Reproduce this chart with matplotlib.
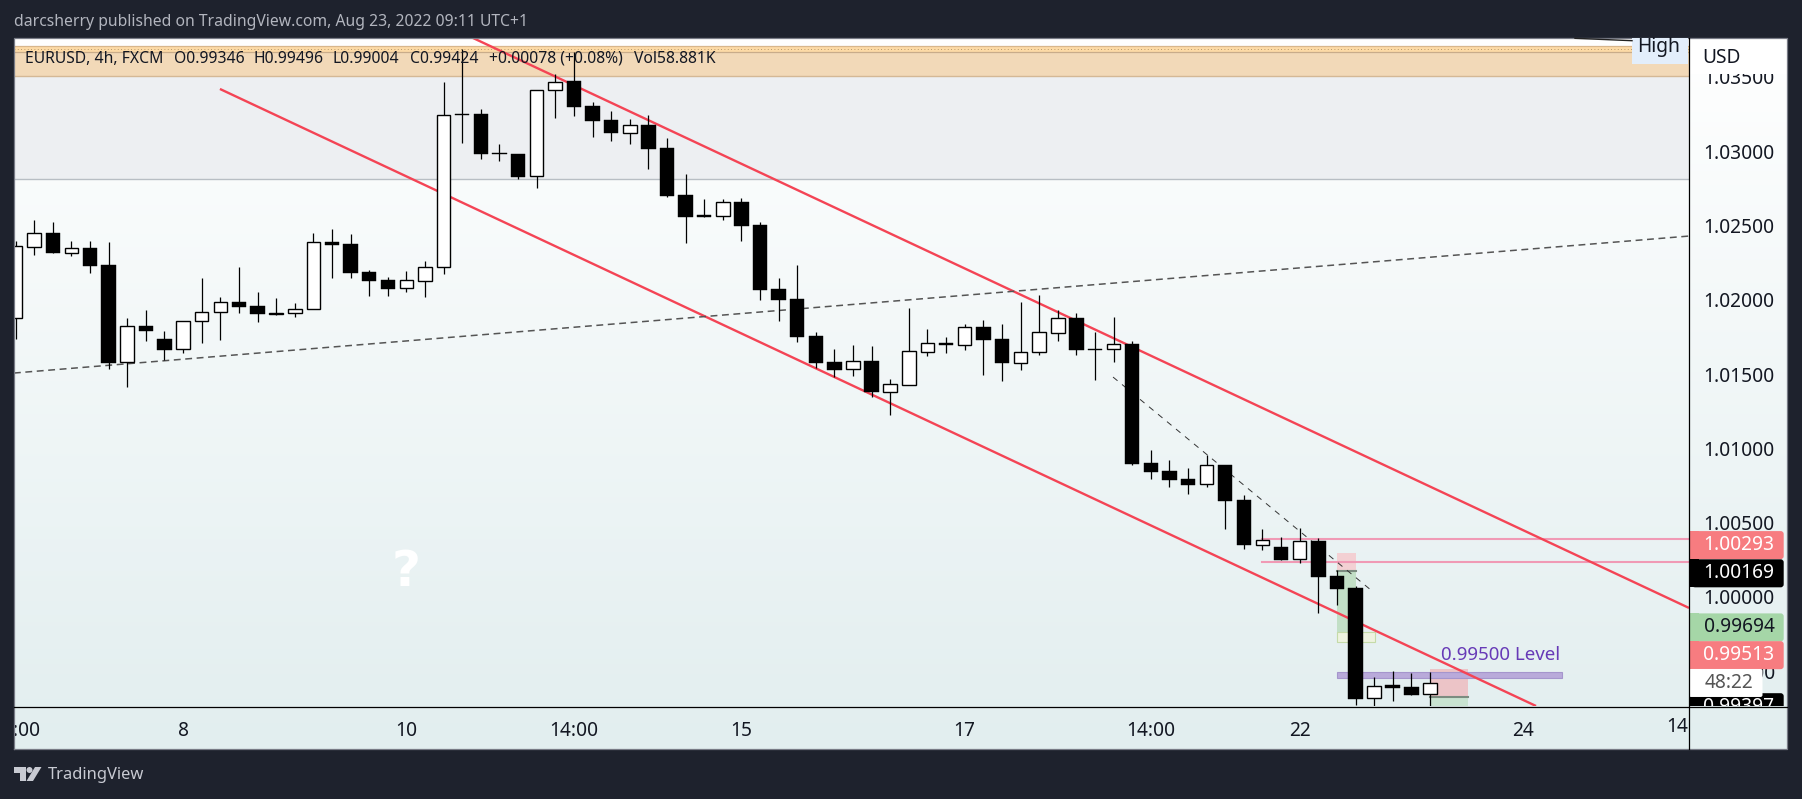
import numpy as np
import matplotlib
matplotlib.use("Agg")
import matplotlib.pyplot as plt
from matplotlib.lines import Line2D
from matplotlib.patches import Rectangle, FancyBboxPatch, Polygon, Circle
from matplotlib.transforms import IdentityTransform, Bbox

plt.rcParams['font.family'] = ['Noto Sans', 'DejaVu Sans']

W, H = 1802, 799

# ---- OHLC data (4h bars) ----
highs = [1.02398,1.02537,1.02523,1.02396,1.02396,1.02389,1.01877,1.01931,1.01790,1.01855,
         1.02147,1.02016,1.02221,1.02052,1.02012,1.01978,1.02449,1.02476,1.02443,1.02200,
         1.02153,1.02194,1.02261,1.03465,1.03685,1.03284,1.03048,1.02981,1.03409,1.03519,
         1.03669,1.03329,1.03270,1.03216,1.03243,1.03089,1.02846,1.02678,1.02678,1.02685,
         1.02523,1.02147,1.02234,1.01783,1.01669,1.01696,1.01689,1.01467,1.01945,1.01803,
         1.01750,1.01837,1.01862,1.01839,1.01983,1.02032,1.01931,1.01911,1.01783,1.01884,
         1.01723,1.00989,1.00922,1.00868,1.00956,1.00888,1.00684,1.00458,1.00401,1.00464,
         1.00395,1.00182,1.00074,0.99459,0.99500,0.99489,0.99496]
lows  = [1.01734,1.02301,1.02317,1.02295,1.02182,1.01536,1.01415,1.01725,1.01595,1.01644,
         1.01711,1.01729,1.01913,1.01853,1.01898,1.01886,1.01936,1.02149,1.02149,1.02028,
         1.02028,1.02055,1.02021,1.02173,1.03057,1.02950,1.02936,1.02813,1.02754,1.03225,
         1.03239,1.03098,1.03071,1.03050,1.02880,1.02694,1.02384,1.02559,1.02539,1.02398,
         1.02001,1.01859,1.01718,1.01539,1.01478,1.01489,1.01344,1.01225,1.01429,1.01624,
         1.01644,1.01664,1.01494,1.01456,1.01527,1.01631,1.01725,1.01631,1.01462,1.01584,
         1.00888,1.00794,1.00742,1.00695,1.00742,1.00455,1.00325,1.00319,1.00249,1.00231,
         0.99895,0.99946,0.99273,0.99267,0.99302,0.99341,0.99004]
opens = [1.01875,1.02357,1.02447,1.02317,1.02346,1.02232,1.01579,1.01821,1.01734,1.01667,
         1.01855,1.01916,1.01983,1.01958,1.01907,1.01909,1.01936,1.02387,1.02373,1.02185,
         1.02133,1.02077,1.02129,1.02218,1.03248,1.03250,1.02985,1.02981,1.02831,1.03409,
         1.03472,1.03304,1.03210,1.03125,1.03174,1.03021,1.02705,1.02570,1.02566,1.02658,
         1.02503,1.02073,1.02005,1.01756,1.01581,1.01532,1.01588,1.01382,1.01429,1.01651,
         1.01709,1.01698,1.01817,1.01736,1.01577,1.01646,1.01779,1.01877,1.01669,1.01667,
         1.01702,1.00902,1.00848,1.00794,1.00758,1.00888,1.00653,1.00352,1.00336,1.00253,
         1.00377,1.00141,1.00058,0.99318,0.99406,0.99394,0.99346]
closes = [1.02360,1.02447,1.02317,1.02346,1.02230,1.01577,1.01821,1.01792,1.01664,1.01855,
          1.01916,1.01983,1.01954,1.01907,1.01909,1.01936,1.02387,1.02371,1.02182,1.02129,
          1.02075,1.02131,1.02218,1.03241,1.03241,1.02983,1.02979,1.02828,1.03409,1.03468,
          1.03299,1.03205,1.03125,1.03174,1.03017,1.02701,1.02559,1.02559,1.02656,1.02499,
          1.02068,1.02001,1.01752,1.01577,1.01530,1.01586,1.01379,1.01431,1.01655,1.01707,
          1.01698,1.01815,1.01729,1.01577,1.01646,1.01781,1.01875,1.01664,1.01664,1.01700,
          1.00897,1.00843,1.00790,1.00756,1.00886,1.00648,1.00352,1.00381,1.00249,1.00375,
          1.00137,1.00056,0.99316,0.99403,0.99390,0.99343,0.99424]

# ---- drawings (bar index, price) ----
upper_x, upper_y = [24.58, 89.92], [1.03762, 0.99926]
lower_x, lower_y = [10.98, 81.70], [1.03419, 0.99266]
mid_x, mid_y = [-0.09, 89.92], [1.01507, 1.02429]
thin_x, thin_y = [58.97, 72.89], [1.01480, 1.00040]
pink_levels = [1.00392, 1.00238]
pink_x = [67.0, 89.92]

y_ticks = [1.035, 1.030, 1.025, 1.020, 1.015, 1.010, 1.005, 1.000, 0.995]
x_ticks = [0, 9, 21, 30, 39, 51, 61, 69, 81]
x_labels = ["14:00", "8", "10", "14:00", "15", "17", "14:00", "22", "24"]

# (price centre on the scale, text, fill, text colour)
price_tags = [(1.00349, "1.00293", "#f77c80", "#ffffff"),
              (1.00159, "1.00169", "#000000", "#ffffff"),
              (0.99795, "0.99694", "#a5d6a7", "#131722"),
              (0.99608, "0.99513", "#f77c80", "#ffffff"),
              (0.99258, "0.99397", "#000000", "#ffffff")]

YMIN, YMAX = 0.99266, 1.03762
XMIN, XMAX = -0.086, 89.92
FS = 13.8

fig = plt.figure(figsize=(W / 100, H / 100), dpi=100, facecolor="#1e222d")
idt = IdentityTransform()


def box(x0, y0, x1, y1):
    return [x0 / W, 1 - y1 / H, (x1 - x0) / W, (y1 - y0) / H]


# background gradient of the whole chart
ax_bg = fig.add_axes(box(14, 38, 1787, 749), zorder=-1)
grad = np.linspace(0, 1, 256)[:, None, None]
c0 = np.array([1.0, 1.0, 1.0])
c1 = np.array([0xe2, 0xee, 0xef]) / 255
ax_bg.imshow(c0 * (1 - grad) + c1 * grad, aspect="auto")
ax_bg.set_axis_off()

ax = fig.add_axes(box(14, 38, 1689, 706))
ax.patch.set_alpha(0)
ax.set_xlim(XMIN, XMAX)
ax.set_ylim(YMIN, YMAX)
for s in ax.spines.values():
    s.set_visible(False)

# bands
ax.axhspan(1.02813, 1.03503, color="#edeff2", lw=0, zorder=0.5)
ax.axhline(1.02813, color="#b8bec4", lw=1.0, zorder=0.6)
ax.axhspan(1.03503, 1.03668, color="#f2d9b8", lw=0, zorder=0.5)
ax.axhspan(1.03668, 1.03708, color="#fddaa6", lw=0, zorder=0.5)
ax.axhline(1.03503, color="#d4b896", lw=1.0, zorder=0.6)
ax.axhline(1.03668, color="#c9ac8a", lw=0.9, zorder=0.6)
ax.axhline(1.03708, color="#d8b68c", lw=0.9, zorder=0.6)
ax.axhline(1.03688, color="#a08658", lw=0.6, ls=(0, (1, 3)), zorder=0.7)

# position / level boxes
ax.add_patch(Rectangle((71, 1.00172), 1.03, 1.00296 - 1.00172, fc="#f3d0d3", ec="none", zorder=1))
ax.add_patch(Rectangle((71, 0.99690), 1.03, 1.00172 - 0.99690, fc="#c2dfc6", ec="none", zorder=1))
ax.plot([71, 72.03], [1.00172, 1.00172], color="#7c8c80", lw=1.5, zorder=1.1)
ax.add_patch(Rectangle((71, 0.99694), 2.03, 0.00071, fc="#eef3e0", ec="#c5dba8", lw=0.8, zorder=1.05))
ax.add_patch(Rectangle((76, 0.99329), 2.05, 0.99515 - 0.99329, fc="#ecc4c7", ec="none", zorder=1))
ax.add_patch(Rectangle((76, 0.99100), 2.05, 0.99329 - 0.99100, fc="#c9e3d1", ec="none", zorder=1))
ax.plot([76, 78.05], [0.99329, 0.99329], color="#7c8c80", lw=1.5, zorder=1.1)
ax.add_patch(Rectangle((71, 0.99455), 12.1, 0.00040, fc="#b9aada", ec="#a595cc", lw=0.8, zorder=1.2))

# trend lines
for lv in pink_levels:
    ax.plot(pink_x, [lv, lv], color="#f09ab5", lw=1.5, zorder=1.5)
ax.plot(upper_x, upper_y, color="#f44455", lw=1.7, zorder=2, solid_capstyle="butt")
ax.plot(lower_x, lower_y, color="#f44455", lw=1.7, zorder=2, solid_capstyle="butt")
ax.plot(mid_x, mid_y, color="#555555", lw=1.1, ls=(0, (4.5, 3)), zorder=2)
ax.plot(thin_x, thin_y, color="#333333", lw=0.7, ls=(0, (6, 6)), zorder=2)

# candles
n = len(closes)
xs = np.arange(n)
o, h, l, c = map(np.array, (opens, highs, lows, closes))
ax.vlines(xs, l, h, color="black", lw=0.9, zorder=3)
up = c >= o
body_w = 0.78
ax.bar(xs[up], (c - o)[up], bottom=o[up], width=body_w - 0.05, fc="white", ec="black", lw=1.0, zorder=3.2)
ax.bar(xs[~up], (o - c)[~up] + 0.00002, bottom=c[~up], width=body_w, fc="black", ec="black", lw=0.3, zorder=3.2)

# texts on the pane
ax.text(79.8, 0.99610, "0.99500 Level", color="#673ab7", fontsize=13.5, ha="center", va="center", zorder=3.5)
ax.text(20.96, 1.00168, "?", color="#ffffff", fontsize=36, family="DejaVu Sans", fontweight="bold",
        ha="center", va="center", zorder=1.5)

# axes ticks
ax.yaxis.tick_right()
ax.set_yticks(y_ticks)
ax.set_yticklabels([f"{v:.5f}" for v in y_ticks], fontsize=FS, color="#131722")
ax.tick_params(axis="y", length=0, pad=10.5)
ax.set_xticks(x_ticks)
ax.set_xticklabels(x_labels, fontsize=FS, color="#131722")
ax.tick_params(axis="x", length=0, pad=10.5)
clip_px = Bbox([[14, 0], [1689, H]])
for lab in ax.get_xticklabels():
    lab.set_clip_on(True)
    lab.set_clip_box(clip_px)
last = ax.text(90, -0.0315, "14:00", transform=ax.get_xaxis_transform(), fontsize=FS, color="#131722",
               ha="center", va="center", clip_on=True)
last.set_clip_box(clip_px)

# frame, scale lines
fig.add_artist(Line2D([14, 14, 1787, 1787, 14], [H - 749, H - 38, H - 38, H - 749, H - 749], transform=idt,
                      color="#787b86", lw=0.9))
fig.add_artist(Line2D([14, 1787], [H - 706.5, H - 706.5], transform=idt, color="black", lw=0.9, zorder=8))
fig.add_artist(Line2D([1689, 1689], [H - 38, H - 749], transform=idt, color="black", lw=0.9, zorder=4))

# scale overlay: white head hiding top of the scale
ax.add_patch(Rectangle((1690, H - 74), 97, 35, transform=idt, fc="#ffffff", ec="none", clip_on=False, zorder=6))
fig.text(1702 / W, 1 - 58 / H, "USD", fontsize=FS, color="#131722", va="center", ha="left", zorder=9)

# price tags
clip_tags = Bbox([[0, H - 706], [W, H]])
for price, txt, fc, tc in price_tags:
    cy = ax.transData.transform((0, price))[1]
    r1 = Rectangle((1689, cy - 14), 10, 28, transform=idt, fc=fc, ec="none", clip_on=True, zorder=7)
    r2 = FancyBboxPatch((1692, cy - 14), 91.7, 28, boxstyle="round,pad=0,rounding_size=3", transform=idt,
                        fc=fc, ec="none", clip_on=True, zorder=7)
    for r in (r1, r2):
        ax.add_patch(r)
        r.set_clip_box(clip_tags)
        r.set_clip_path(None)
    t = ax.text(1739, cy, txt, transform=idt, color=tc, fontsize=FS, ha="center", va="center", clip_on=True, zorder=7.5)
    t.set_clip_box(clip_tags)

# countdown
cy = ax.transData.transform((0, 0.99421))[1]
ax.add_patch(FancyBboxPatch((1689, cy - 14), 73.5, 28, boxstyle="round,pad=0,rounding_size=2", transform=idt,
                            fc="#ffffff", ec="none", clip_on=False, zorder=7.2))
ax.text(1729, cy, "48:22", transform=idt, color="#555555", fontsize=FS, ha="center", va="center", clip_on=False, zorder=7.6)

# High tag
fig.add_artist(Rectangle((1632, H - 63.5), 56, 25.5, transform=idt, fc="#e3eefb", ec="none", zorder=5))
fig.text(1659 / W, 1 - 47 / H, "High", fontsize=FS, color="#131722", ha="center", va="center", zorder=9)
fig.add_artist(Line2D([1575, 1632], [H - 38.3, H - 40.7], transform=idt, color="#222222", lw=1.0, zorder=5))

# legend line
legend_parts = [(25, "EURUSD, 4h, FXCM"), (174, "O0.99346"), (254, "H0.99496"), (333, "L0.99004"),
                (410, "C0.99424"), (489, "+0.00078 (+0.08%)"), (634, "Vol58.881K")]
for px, s in legend_parts:
    fig.text(px / W, 1 - 58.7 / H, s, fontsize=11.3, color="#131722", ha="left", va="center", zorder=9)

# header and footer
fig.text(14 / W, 1 - 21.5 / H, "darcsherry published on TradingView.com, Aug 23, 2022 09:11 UTC+1",
         fontsize=11.3, color="#b2b5be", ha="left", va="center")
fig.text(47.5 / W, 1 - 775 / H, "TradingView", fontsize=11.9, color="#c8cad2", ha="left", va="center", fontweight="medium")
logo = "#c8cad2"
fig.add_artist(Polygon([(14, H - 767), (26, H - 767), (26, H - 781), (20, H - 781), (20, H - 773), (14, H - 773)],
                       transform=idt, fc=logo, ec="none"))
fig.add_artist(Circle((29.5, H - 770), 3, transform=idt, fc=logo, ec="none"))
fig.add_artist(Polygon([(35, H - 767), (41.5, H - 767), (33, H - 781), (26.5, H - 781)],
                       transform=idt, fc=logo, ec="none"))

fig.savefig("out.png", dpi=100, facecolor=fig.get_facecolor())
